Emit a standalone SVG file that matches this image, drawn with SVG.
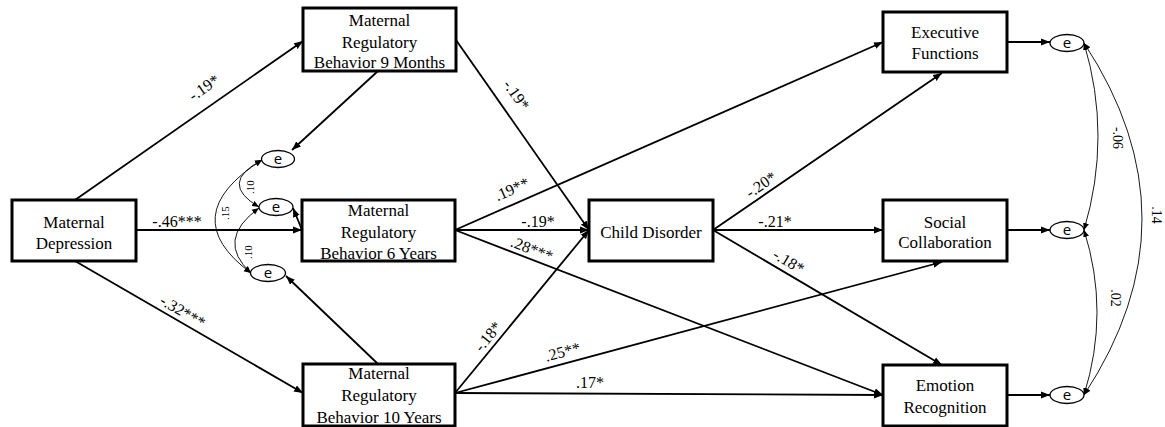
<svg xmlns="http://www.w3.org/2000/svg" width="1165" height="427" viewBox="0 0 1165 427">
<defs>
<marker id="arr" markerUnits="userSpaceOnUse" markerWidth="10" markerHeight="8" refX="9" refY="4" orient="auto-start-reverse">
<path d="M0,0.5 L9,4 L0,7.5 Z" fill="#000"/>
</marker>
<marker id="arrs" markerUnits="userSpaceOnUse" markerWidth="8" markerHeight="7" refX="7" refY="3.5" orient="auto-start-reverse">
<path d="M0,0.5 L7,3.5 L0,6.5 Z" fill="#000"/>
</marker>
</defs>
<style>
.box{fill:#fff;stroke:#000;stroke-width:3}
.t{font-family:"Liberation Serif","Times New Roman",serif;font-size:17px;fill:#000;text-anchor:middle}
.lbl{font-family:"Liberation Serif","Times New Roman",serif;font-size:16px;fill:#000;text-anchor:middle}
.sm{font-family:"Liberation Serif","Times New Roman",serif;font-size:11px;fill:#000;text-anchor:middle}
.rl{font-family:"Liberation Serif","Times New Roman",serif;font-size:14px;fill:#000;text-anchor:middle}
.ell{fill:#fff;stroke:#000;stroke-width:1.3}
.et{font-family:"Open Sans","DejaVu Sans",sans-serif;font-size:15px;fill:#000;text-anchor:middle}
.ln{fill:none;stroke:#000;stroke-width:1.8;marker-end:url(#arr)}
.cv{fill:none;stroke:#000;stroke-width:0.9;marker-start:url(#arrs);marker-end:url(#arrs)}
</style>
<rect width="1165" height="427" fill="#fff"/>
<g id="connectors">
<line class="ln" x1="75" y1="200" x2="303" y2="41"/>
<line class="ln" x1="136" y1="230" x2="302" y2="230"/>
<line class="ln" x1="75" y1="261" x2="303" y2="393"/>
<line class="ln" x1="378" y1="71" x2="292" y2="150"/>
<line class="ln" x1="302" y1="230" x2="293" y2="208"/>
<line class="ln" x1="378" y1="364" x2="286" y2="276"/>
<line class="ln" x1="456" y1="40" x2="589" y2="230"/>
<line class="ln" x1="455" y1="230" x2="883" y2="42"/>
<line class="ln" x1="455" y1="230" x2="589" y2="230"/>
<line class="ln" x1="455" y1="230" x2="883" y2="395"/>
<line class="ln" x1="455" y1="393" x2="589" y2="230"/>
<line class="ln" x1="455" y1="393" x2="942" y2="262"/>
<line class="ln" x1="455" y1="393" x2="883" y2="395"/>
<line class="ln" x1="713" y1="230" x2="942" y2="73"/>
<line class="ln" x1="713" y1="230" x2="883" y2="230"/>
<line class="ln" x1="713" y1="230" x2="942" y2="365"/>
<line class="ln" x1="1007" y1="42" x2="1050" y2="42"/>
<line class="ln" x1="1007" y1="230" x2="1050" y2="230"/>
<line class="ln" x1="1007" y1="395" x2="1050" y2="395"/>
<path class="cv" d="M262,160 Q218,183 259,207"/>
<path class="cv" d="M262,160 Q174,216 251,273"/>
<path class="cv" d="M259,208 Q215,240 251,273"/>
<path class="cv" d="M1084,43 Q1112,136 1084,230"/>
<path class="cv" d="M1084,230 Q1110,312 1084,395"/>
<path class="cv" d="M1084,43 Q1200,219 1084,395"/>
<text class="lbl" transform="translate(207,92) rotate(-34.7)">-.19*</text>
<text class="lbl" x="177" y="227">-.46***</text>
<text class="lbl" transform="translate(180,316) rotate(30.3)">-.32***</text>
<text class="lbl" transform="translate(512,98) rotate(54.8)">-.19*</text>
<text class="lbl" transform="translate(514,194) rotate(-23.7)">.19**</text>
<text class="lbl" x="538" y="227">-.19*</text>
<text class="lbl" transform="translate(530,254) rotate(21)">.28***</text>
<text class="lbl" transform="translate(492,340) rotate(-50.6)">-.18*</text>
<text class="lbl" transform="translate(564,357) rotate(-15)">.25**</text>
<text class="lbl" x="590" y="388">.17*</text>
<text class="lbl" transform="translate(764,189) rotate(-34.6)">-.20*</text>
<text class="lbl" x="775" y="227">-.21*</text>
<text class="lbl" transform="translate(786,266) rotate(30.5)">-.18*</text>
<text class="sm" transform="translate(254,187) rotate(-90)">.10</text>
<text class="sm" transform="translate(229,213) rotate(-90)">.15</text>
<text class="sm" transform="translate(252,252) rotate(-90)">.10</text>
<text class="rl" transform="translate(1113,138) rotate(90)">-.06</text>
<text class="rl" transform="translate(1152,215) rotate(90)">.14</text>
<text class="rl" transform="translate(1111,298) rotate(90)">.02</text>
</g>
<g id="e-mrb9"><ellipse class="ell" cx="278" cy="159" rx="16.5" ry="8.5"/><text class="et" x="278" y="164">e</text></g>
<g id="e-mrb6"><ellipse class="ell" cx="276" cy="207" rx="17" ry="8.5"/><text class="et" x="276" y="212">e</text></g>
<g id="e-mrb10"><ellipse class="ell" cx="268" cy="273" rx="17.5" ry="8.5"/><text class="et" x="268" y="278">e</text></g>
<g id="e-exec"><ellipse class="ell" cx="1067" cy="43" rx="17" ry="8.5"/><text class="et" x="1067" y="48">e</text></g>
<g id="e-social"><ellipse class="ell" cx="1067" cy="230" rx="17" ry="8.5"/><text class="et" x="1067" y="235">e</text></g>
<g id="e-emotion"><ellipse class="ell" cx="1067" cy="395" rx="17" ry="8.5"/><text class="et" x="1067" y="400">e</text></g>
<g id="maternal-depression"><rect class="box" x="12" y="200" width="124" height="61"/><text class="t" x="74" y="228">Maternal</text><text class="t" x="74" y="249">Depression</text></g>
<g id="mrb-9m"><rect class="box" x="303" y="8" width="153" height="63"/><text class="t" x="379.5" y="26">Maternal</text><text class="t" x="379.5" y="47.5">Regulatory</text><text class="t" x="379.5" y="68">Behavior 9 Months</text></g>
<g id="mrb-6y"><rect class="box" x="302" y="200" width="153" height="61"/><text class="t" x="378.5" y="216">Maternal</text><text class="t" x="378.5" y="238">Regulatory</text><text class="t" x="378.5" y="259">Behavior 6 Years</text></g>
<g id="mrb-10y"><rect class="box" x="303" y="364" width="152" height="62"/><text class="t" x="379" y="379">Maternal</text><text class="t" x="379" y="401">Regulatory</text><text class="t" x="379" y="423">Behavior 10 Years</text></g>
<g id="child-disorder"><rect class="box" x="589" y="200" width="124" height="61"/><text class="t" x="651" y="238">Child Disorder</text></g>
<g id="executive-functions"><rect class="box" x="883" y="12" width="124" height="60"/><text class="t" x="945" y="38">Executive</text><text class="t" x="945" y="59">Functions</text></g>
<g id="social-collaboration"><rect class="box" x="883" y="200" width="124" height="61"/><text class="t" x="945" y="228">Social</text><text class="t" x="945" y="248">Collaboration</text></g>
<g id="emotion-recognition"><rect class="box" x="883" y="365" width="124" height="61"/><text class="t" x="945" y="391">Emotion</text><text class="t" x="945" y="413">Recognition</text></g>
</svg>
